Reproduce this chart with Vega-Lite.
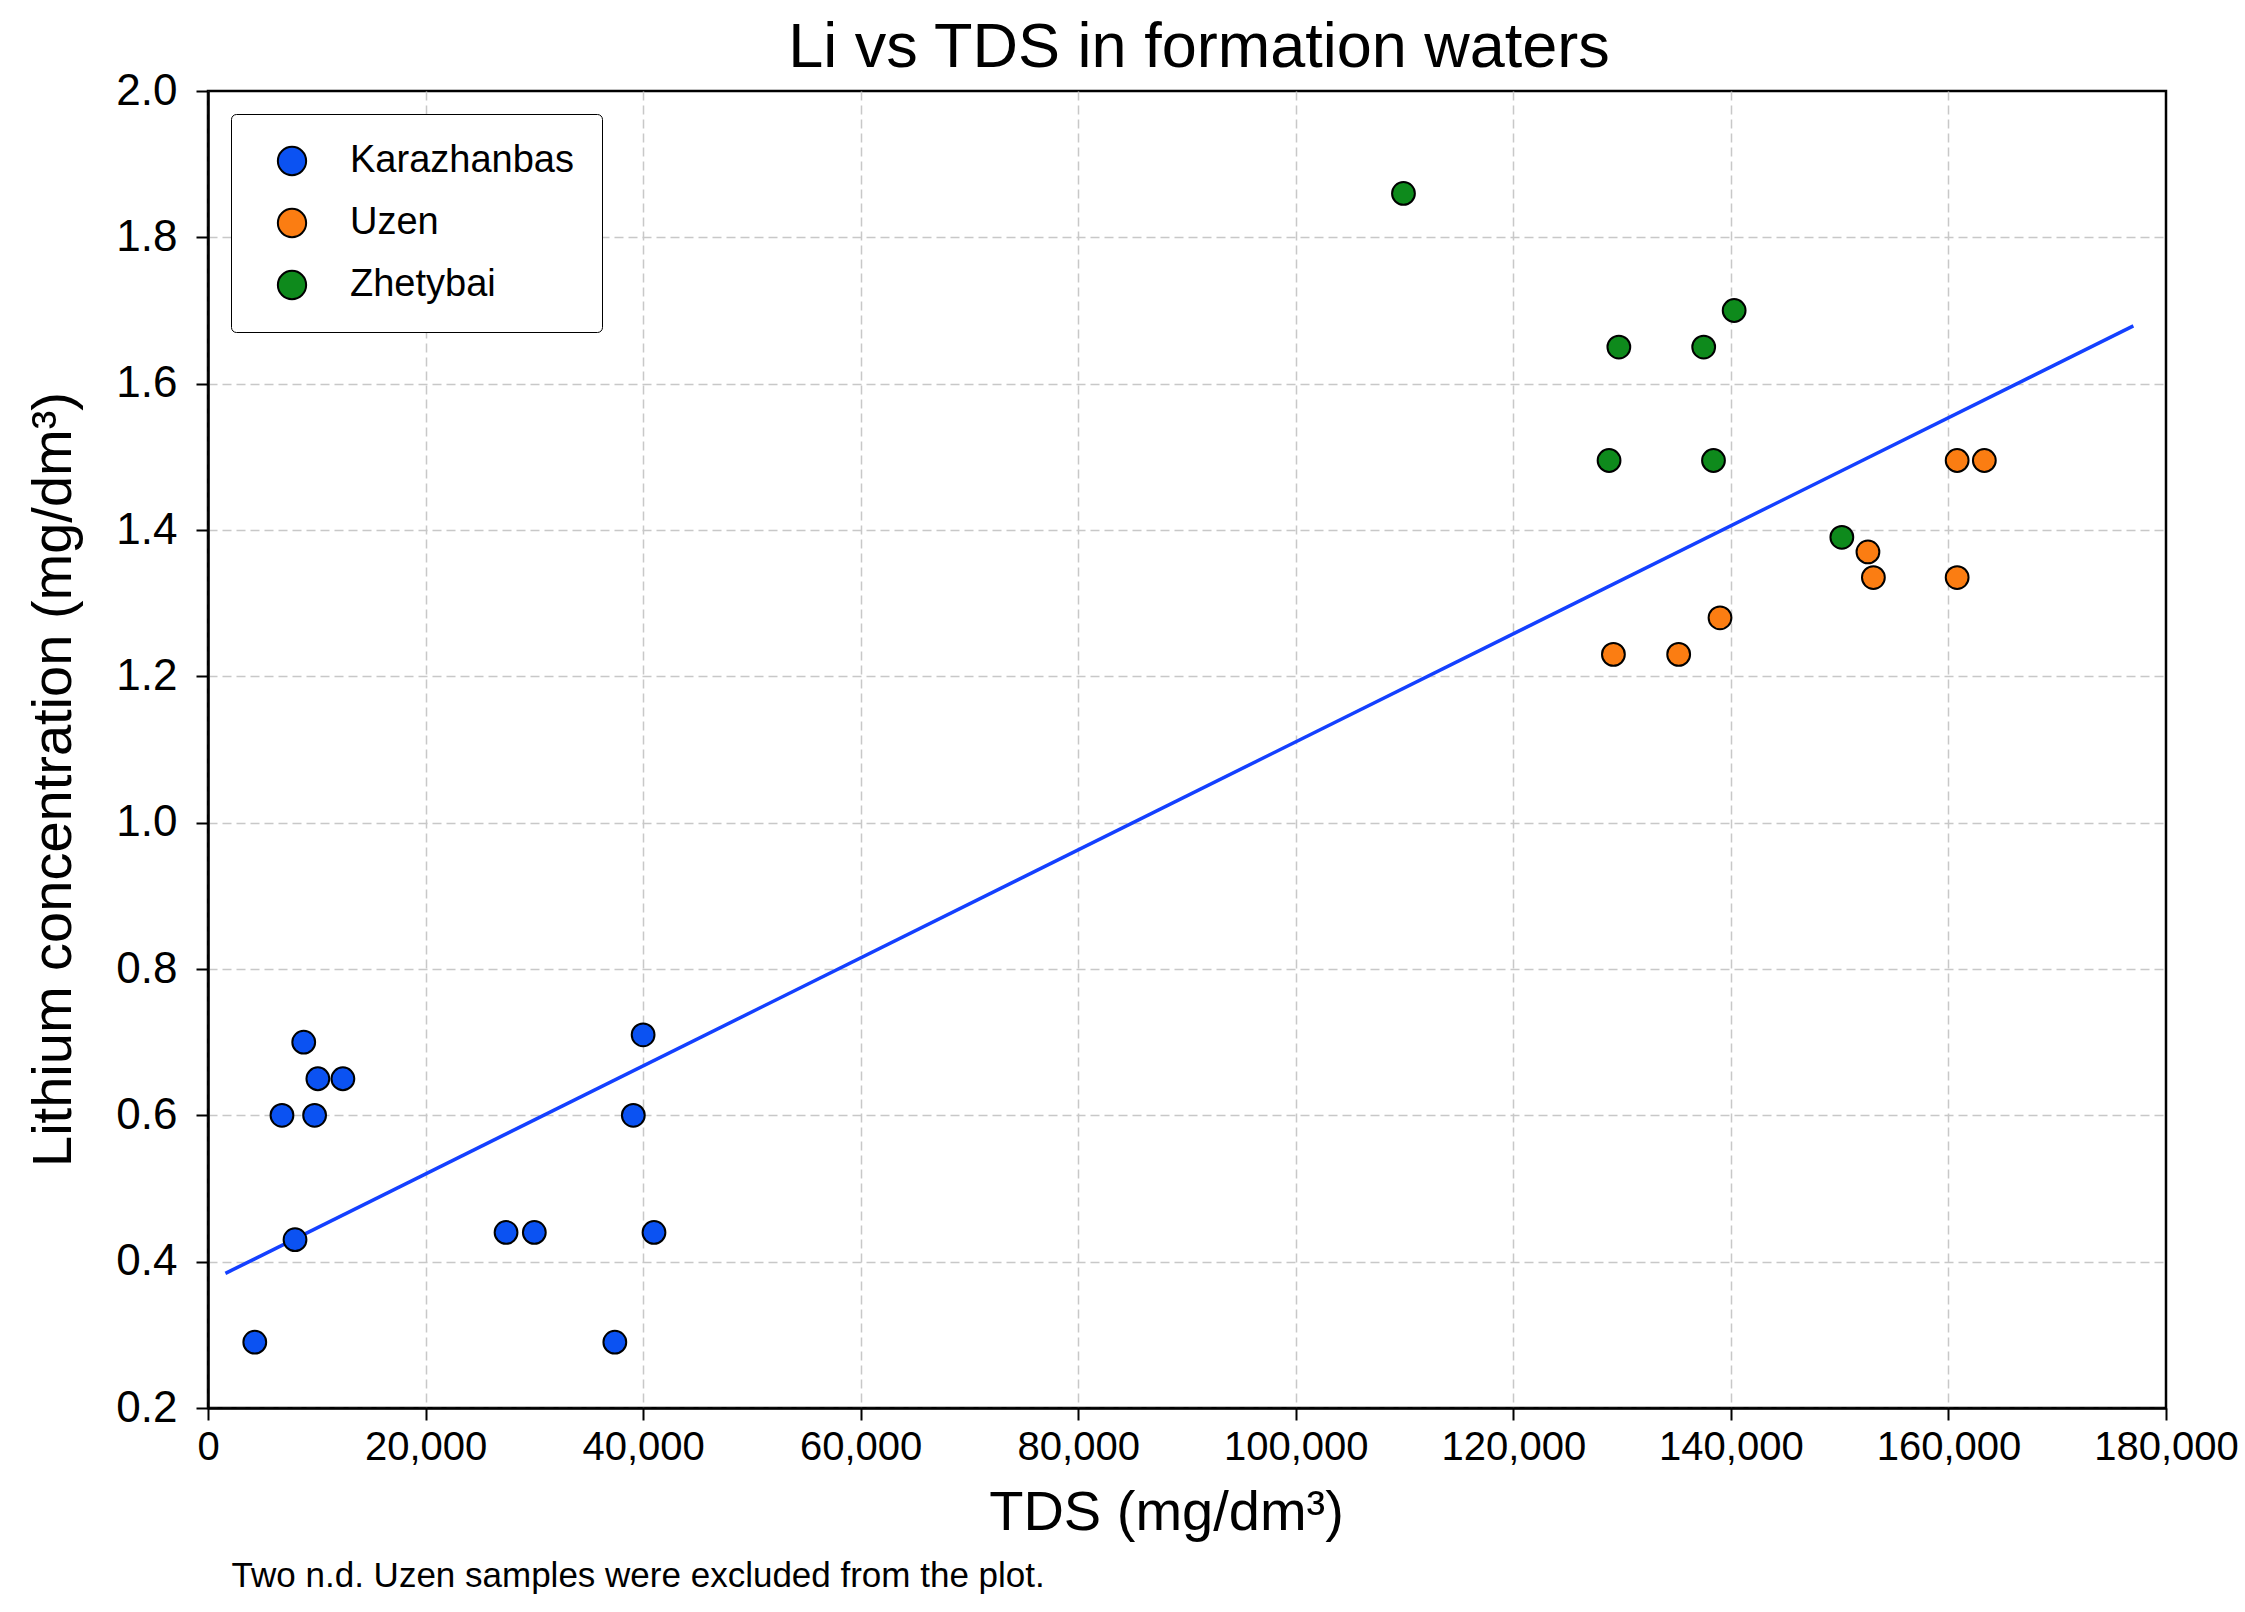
{
  "$schema": "https://vega.github.io/schema/vega-lite/v6.json",
  "description": "Li vs TDS in formation waters",
  "background": "white",
  "padding": {"left": 24, "top": 15, "right": 0, "bottom": 5},
  "datasets": {
    "samples": [
      {"field": "Karazhanbas", "tds": 4300, "li": 0.29},
      {"field": "Karazhanbas", "tds": 6800, "li": 0.6},
      {"field": "Karazhanbas", "tds": 8000, "li": 0.43},
      {"field": "Karazhanbas", "tds": 8800, "li": 0.7},
      {"field": "Karazhanbas", "tds": 9800, "li": 0.6},
      {"field": "Karazhanbas", "tds": 10100, "li": 0.65},
      {"field": "Karazhanbas", "tds": 12400, "li": 0.65},
      {"field": "Karazhanbas", "tds": 27400, "li": 0.44},
      {"field": "Karazhanbas", "tds": 30000, "li": 0.44},
      {"field": "Karazhanbas", "tds": 37400, "li": 0.29},
      {"field": "Karazhanbas", "tds": 39100, "li": 0.6},
      {"field": "Karazhanbas", "tds": 40000, "li": 0.71},
      {"field": "Karazhanbas", "tds": 41000, "li": 0.44},
      {"field": "Uzen", "tds": 129200, "li": 1.23},
      {"field": "Uzen", "tds": 135200, "li": 1.23},
      {"field": "Uzen", "tds": 139000, "li": 1.28},
      {"field": "Uzen", "tds": 152600, "li": 1.37},
      {"field": "Uzen", "tds": 153100, "li": 1.335},
      {"field": "Uzen", "tds": 160800, "li": 1.335},
      {"field": "Uzen", "tds": 160800, "li": 1.495},
      {"field": "Uzen", "tds": 163300, "li": 1.495},
      {"field": "Zhetybai", "tds": 109900, "li": 1.86},
      {"field": "Zhetybai", "tds": 128800, "li": 1.495},
      {"field": "Zhetybai", "tds": 129700, "li": 1.65},
      {"field": "Zhetybai", "tds": 137500, "li": 1.65},
      {"field": "Zhetybai", "tds": 138400, "li": 1.495},
      {"field": "Zhetybai", "tds": 140300, "li": 1.7},
      {"field": "Zhetybai", "tds": 150200, "li": 1.39}
    ],
    "fit": [
      {"tds": 1600, "li": 0.384},
      {"tds": 177000, "li": 1.679}
    ]
  },
  "title": {
    "text": "Two n.d. Uzen samples were excluded from the plot.",
    "orient": "bottom",
    "anchor": "start",
    "frame": "bounds",
    "dx": 207,
    "offset": 18,
    "font": "Liberation Sans",
    "fontSize": 35,
    "fontWeight": "normal",
    "color": "black"
  },
  "vconcat": [
    {
      "title": {
        "text": "Li vs TDS in formation waters",
        "font": "Liberation Sans",
        "fontSize": 63,
        "fontWeight": "normal",
        "color": "black",
        "frame": "group",
        "dx": 12,
        "offset": -11
      },
      "width": 1958,
      "height": 1317,
      "layer": [
        {
          "data": {"name": "fit"},
          "mark": {"type": "line", "color": "#1440ff", "strokeWidth": 3.5},
          "encoding": {
            "x": {"field": "tds", "type": "quantitative"},
            "y": {"field": "li", "type": "quantitative"}
          }
        },
        {
          "data": {"name": "samples"},
          "mark": {
            "type": "point",
            "filled": true,
            "shape": "circle",
            "size": 520,
            "stroke": "black",
            "strokeWidth": 2,
            "opacity": 1
          },
          "encoding": {
            "x": {
              "field": "tds",
              "type": "quantitative",
              "scale": {"domain": [0, 180000], "nice": false, "zero": false},
              "axis": {
                "title": "TDS (mg/dm³)",
                "values": [0, 20000, 40000, 60000, 80000, 100000, 120000, 140000, 160000, 180000],
                "format": ",.0f",
                "labelFontSize": 40,
                "labelPadding": 7,
                "titlePadding": 18,
                "titleX": 958,
                "gridOpacity": {"condition": {"test": "datum.value >= 180000", "value": 0}, "value": 1}
              }
            },
            "y": {
              "field": "li",
              "type": "quantitative",
              "scale": {"domain": [0.2, 2.0], "nice": false, "zero": false},
              "axis": {
                "title": "Lithium concentration (mg/dm³)",
                "values": [0.2, 0.4, 0.6, 0.8, 1.0, 1.2, 1.4, 1.6, 1.8, 2.0],
                "format": ".1f",
                "labelPadding": 19,
                "titlePadding": 33,
                "titleY": 688,
                "gridOpacity": {"condition": {"test": "datum.value >= 1.99", "value": 0}, "value": 1}
              }
            },
            "color": {
              "field": "field",
              "type": "nominal",
              "scale": {
                "domain": ["Karazhanbas", "Uzen", "Zhetybai"],
                "range": ["#0b52f2", "#fb7d12", "#0e8a1c"]
              },
              "legend": {
                "title": null,
                "orient": "none",
                "legendX": 23,
                "legendY": 23,
                "padding": 28,
                "fillColor": "white",
                "strokeColor": "black",
                "cornerRadius": 5,
                "symbolType": "circle",
                "symbolSize": 800,
                "symbolStrokeColor": "black",
                "symbolStrokeWidth": 2,
                "symbolOffset": 14,
                "labelOffset": 39,
                "labelFont": "Liberation Sans",
                "labelFontSize": 38,
                "labelLimit": 500,
                "labelColor": "black",
                "rowPadding": 24,
                "encode": {
                  "legend": {"update": {"strokeWidth": {"value": 2}}}
                }
              }
            }
          }
        }
      ]
    }
  ],
  "config": {
    "view": {"stroke": "black", "strokeWidth": 2.5},
    "axis": {
      "grid": true,
      "gridColor": "#c8c8c8",
      "gridDash": [9, 5],
      "gridWidth": 1.5,
      "domainColor": "black",
      "domainWidth": 2.5,
      "tickColor": "black",
      "tickSize": 12,
      "tickWidth": 2,
      "labelFont": "Liberation Sans",
      "labelFontSize": 44,
      "labelColor": "black",
      "labelFlush": false,
      "labelOverlap": false,
      "titleFont": "Liberation Sans",
      "titleFontSize": 56,
      "titleFontWeight": "normal",
      "titleColor": "black"
    }
  }
}
